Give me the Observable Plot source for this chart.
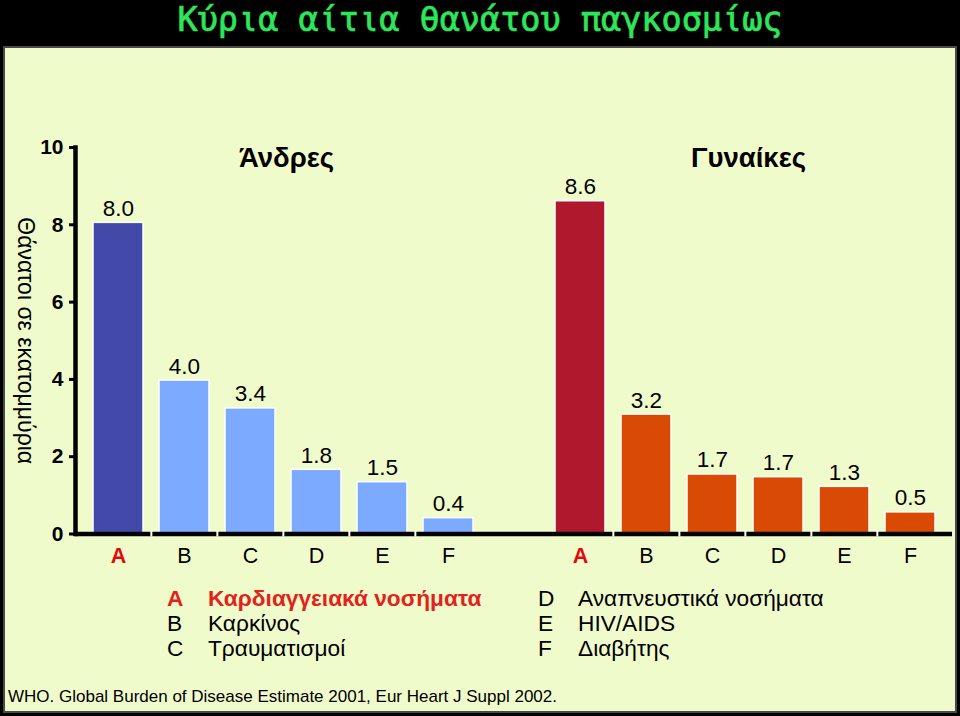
<!DOCTYPE html>
<html>
<head>
<meta charset="utf-8">
<script src="https://cdn.jsdelivr.net/npm/d3@7"></script>
<script src="https://cdn.jsdelivr.net/npm/@observablehq/plot@0.6"></script>
<style>
html, body { margin: 0; padding: 0; background: #000; width: 960px; height: 716px; overflow: hidden; font-family: "Liberation Sans", Arial, sans-serif; }
#title { position: absolute; left: 0; top: 0; width: 960px; height: 46px; text-align: center; font-family: "DejaVu Sans Mono", monospace; font-size: 33.5px; line-height: normal; color: #2EE65A; -webkit-text-stroke: 0.7px #2EE65A; white-space: nowrap; }
#panel { position: absolute; left: 3px; top: 46px; width: 950px; height: 663px; border: 2px solid #4a4a4a; background: #F0FBCC; }
#chart { position: absolute; left: 0; top: 0; }
.lg { position: absolute; font-size: 22.7px; line-height: 25px; color: #000; white-space: nowrap; }
.lg.hl { color: #E3221B; font-weight: bold; }
#caption { position: absolute; left: 3px; top: 638px; font-size: 17px; line-height: 22px; color: #000; white-space: nowrap; }
</style>
</head>
<body>
<div id="title"></div>
<div id="panel">
  <div id="chart"></div>
  <div id="legend"></div>
  <div id="caption"></div>
</div>
<script>
// ---- data ----
const titleText = "Κύρια αίτια θανάτου παγκοσμίως";
const yTitle = "Θάνατοι σε εκατομμύρια";
const groups = ["Άνδρες", "Γυναίκες"];
const causes = ["A", "B", "C", "D", "E", "F"];
const causeNames = ["Καρδιαγγειακά νοσήματα", "Καρκίνος", "Τραυματισμοί", "Αναπνευστικά νοσήματα", "HIV/AIDS", "Διαβήτης"];
const menBars = [8.05, 3.97, 3.25, 1.66, 1.34, 0.41];
const womenBars = [8.61, 3.09, 1.54, 1.47, 1.22, 0.56];
const menLabels = ["8.0", "4.0", "3.4", "1.8", "1.5", "0.4"];
const womenLabels = ["8.6", "3.2", "1.7", "1.7", "1.3", "0.5"];
const yTicks = [0, 2, 4, 6, 8, 10];
const menColors = ["#4349A9", "#7BAAFE"];
const womenColors = ["#B0182E", "#D94A05"];
const captionText = "WHO. Global Burden of Disease Estimate 2001, Eur Heart J Suppl 2002.";

// ---- build table ----
const rows = [];
causes.forEach((c, i) => rows.push({key: "m" + c, cause: c, value: menBars[i], label: menLabels[i], color: i === 0 ? menColors[0] : menColors[1]}));
causes.forEach((c, i) => rows.push({key: "w" + c, cause: c, value: womenBars[i], label: womenLabels[i], color: i === 0 ? womenColors[0] : womenColors[1]}));
const domain = [...causes.map(c => "m" + c), "gap", ...causes.map(c => "w" + c)];
const groupTitles = [{key: "mC", text: groups[0]}, {key: "wC", text: groups[1]}];

document.getElementById("title").textContent = titleText;

const W = 950, ML = 70, MR = 3, PI = 0.25, PO = 0.2414;
const halfStep = (W - ML - MR) / (domain.length - PI + 2 * PO) / 2;

const chart = Plot.plot({
  width: W,
  height: 530,
  marginTop: 99,
  marginBottom: 44.5,
  marginLeft: ML,
  marginRight: MR,
  style: {background: "transparent", fontFamily: "'Liberation Sans', Arial, sans-serif", color: "#000", overflow: "visible"},
  x: {domain, paddingInner: PI, paddingOuter: PO, axis: null},
  y: {domain: [0, 10], axis: null},
  color: {type: "identity"},
  marks: [
    Plot.barY(rows, {x: "key", y: "value", fill: "color", stroke: "#ffffff", strokeWidth: 1.5}),
    Plot.ruleY([0], {stroke: "#000", strokeWidth: 4.5}),
    Plot.ruleX(rows.filter(d => d.cause !== "A"), {x: "key", y1: 0, y2: 0, dx: -halfStep, stroke: "#ffffff", strokeWidth: 2, insetTop: 3, insetBottom: 3}),
    Plot.frame({anchor: "left", stroke: "#000", strokeWidth: 4.5}),
    Plot.axisY(yTicks, {anchor: "left", tickSize: 6, tickPadding: 6, strokeWidth: 3, fontSize: 21, fontWeight: "bold", label: null}),
    Plot.text(rows, {x: "key", y: "value", text: "label", dy: -7, lineAnchor: "bottom", fontSize: 22.5}),
    Plot.text(rows.filter(d => d.cause !== "A"), {x: "key", frameAnchor: "bottom", text: "cause", lineAnchor: "top", dy: 13.5, fontSize: 21.5}),
    Plot.text(rows.filter(d => d.cause === "A"), {x: "key", frameAnchor: "bottom", text: "cause", lineAnchor: "top", dy: 13.5, fontSize: 21.5, fontWeight: "bold", fill: "#E3080B"}),
    Plot.text(groupTitles, {x: "key", frameAnchor: "top", text: "text", lineAnchor: "bottom", dy: 19, dx: 36, fontSize: 27.5, fontWeight: "bold"}),
    Plot.text([yTitle], {frameAnchor: "left", text: d => d, rotate: 90, textAnchor: "middle", dx: -50, fontSize: 23})
  ]
});
document.getElementById("chart").appendChild(chart);

// ---- legend ----
const legend = document.getElementById("legend");
causes.forEach((c, i) => {
  const col = i < 3 ? 0 : 1;
  const row = i % 3;
  const letterLeft = col === 0 ? 162 : 533;
  const nameLeft = col === 0 ? 203 : 573;
  const top = 537.5 + row * 25;
  const l = document.createElement("div");
  l.className = "lg" + (i === 0 ? " hl" : "");
  l.style.left = letterLeft + "px"; l.style.top = top + "px";
  l.textContent = c;
  const n = document.createElement("div");
  n.className = "lg" + (i === 0 ? " hl" : "");
  n.style.left = nameLeft + "px"; n.style.top = top + "px";
  n.textContent = causeNames[i];
  legend.appendChild(l); legend.appendChild(n);
});
document.getElementById("caption").textContent = captionText;
</script>
</body>
</html>
